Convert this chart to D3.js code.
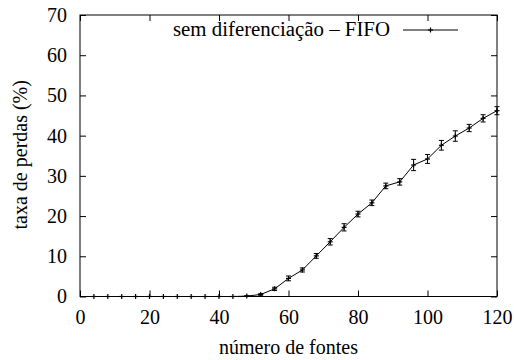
<!DOCTYPE html>
<html>
<head>
<meta charset="utf-8">
<script src="https://cdn.jsdelivr.net/npm/d3@7"></script>
<style>
  html, body { margin: 0; padding: 0; background: #fff; }
  svg { display: block; }
</style>
</head>
<body>
<svg id="chart" width="514" height="360" font-family="Liberation Serif"></svg>
<script>
// number of sources
const fontes = [4, 8, 12, 16, 20, 24, 28, 32, 36, 40, 44, 48, 52, 56, 60, 64, 68, 72, 76, 80,
                84, 88, 92, 96, 100, 104, 108, 112, 116, 120];
// loss rate (%) and its confidence half-width
const perdas = [0, 0, 0, 0, 0, 0, 0, 0, 0, 0, 0, 0.1, 0.5, 1.9, 4.5, 6.6, 10.1, 13.6, 17.2, 20.5,
                23.3, 27.5, 28.5, 32.7, 34.2, 37.6, 39.9, 41.9, 44.3, 46.2];
const erro = [0, 0, 0, 0, 0, 0, 0, 0, 0, 0, 0, 0.1, 0.2, 0.4, 0.6, 0.5, 0.6, 0.8, 0.9, 0.7,
              0.7, 0.7, 0.8, 1.4, 1.1, 1.2, 1.3, 0.9, 0.9, 1.0];
const xTicks = [0, 20, 40, 60, 80, 100, 120];
const yTicks = [0, 10, 20, 30, 40, 50, 60, 70];
const serieNome = "sem diferenciação – FIFO";

const FONT = "Liberation Serif";
const fs = 20;
const svg = d3.select("#chart");
const L = 80, R = 497, T = 15, B = 296.5;
const x = d3.scaleLinear().domain([0, 120]).range([L, R]);
const y = d3.scaleLinear().domain([0, 70]).range([B, T]);
const tick = 6;

// frame
svg.append("rect").attr("x", L).attr("y", T).attr("width", R - L).attr("height", B - T)
  .attr("fill", "none").attr("stroke", "#000").attr("stroke-width", 1);

// axes with inward ticks, mirrored on opposite sides
const styleText = g => g.selectAll("text")
  .attr("font-size", fs).attr("font-family", FONT).attr("fill", "#000");
svg.append("g").attr("transform", `translate(0,${B})`)
  .call(d3.axisBottom(x).tickValues(xTicks).tickSize(-tick).tickPadding(tick + 7))
  .call(g => g.attr("font-family", FONT).select(".domain").remove())
  .call(styleText);
svg.append("g").attr("transform", `translate(0,${T})`)
  .call(d3.axisTop(x).tickValues(xTicks).tickSize(-tick).tickFormat(""))
  .call(g => g.select(".domain").remove());
svg.append("g").attr("transform", `translate(${L},0)`)
  .call(d3.axisLeft(y).tickValues(yTicks).tickSize(-tick).tickPadding(tick + 7))
  .call(g => g.attr("font-family", FONT).select(".domain").remove())
  .call(styleText);
svg.append("g").attr("transform", `translate(${R},0)`)
  .call(d3.axisRight(y).tickValues(yTicks).tickSize(-tick).tickFormat(""))
  .call(g => g.select(".domain").remove());
svg.selectAll(".tick line").attr("stroke", "#000");

// axis titles
svg.append("text").attr("x", x(60)).attr("y", 354).attr("text-anchor", "middle")
  .attr("font-family", FONT).attr("font-size", fs).text("número de fontes");
svg.append("text").attr("transform", `translate(27,${y(35) - 1}) rotate(-90)`)
  .attr("text-anchor", "middle").attr("font-family", FONT).attr("font-size", fs)
  .text("taxa de perdas (%)");

const data = fontes.map((f, i) => ({ f, v: perdas[i], e: erro[i] }));

// line
svg.append("path").datum(data)
  .attr("fill", "none").attr("stroke", "#000").attr("stroke-width", 1)
  .attr("d", d3.line().x(d => x(d.f)).y(d => y(d.v)));

// error bars
const cap = 2.5;
const eb = svg.append("g").attr("stroke", "#000").attr("stroke-width", 1);
data.filter(d => d.e > 0).forEach(d => {
  const cx = x(d.f), y1 = y(d.v - d.e), y2 = y(d.v + d.e);
  eb.append("line").attr("x1", cx).attr("x2", cx).attr("y1", y1).attr("y2", y2);
  eb.append("line").attr("x1", cx - cap).attr("x2", cx + cap).attr("y1", y1).attr("y2", y1);
  eb.append("line").attr("x1", cx - cap).attr("x2", cx + cap).attr("y1", y2).attr("y2", y2);
});

// point markers (+)
const m = 2.5;
const pts = svg.append("g").attr("stroke", "#000").attr("stroke-width", 1.2);
data.forEach(d => {
  const cx = x(d.f), cy = y(d.v);
  pts.append("line").attr("x1", cx - m).attr("x2", cx + m).attr("y1", cy).attr("y2", cy);
  pts.append("line").attr("x1", cx).attr("x2", cx).attr("y1", cy - m).attr("y2", cy + m);
});

// legend
const ly = 30;
svg.append("text").attr("x", 390).attr("y", ly + 6).attr("text-anchor", "end")
  .attr("font-family", FONT).attr("font-size", fs)
  .attr("textLength", 217).attr("lengthAdjust", "spacingAndGlyphs").text(serieNome);
svg.append("line").attr("x1", 403).attr("x2", 458).attr("y1", ly).attr("y2", ly)
  .attr("stroke", "#000");
svg.append("line").attr("x1", 430.5 - m).attr("x2", 430.5 + m).attr("y1", ly).attr("y2", ly)
  .attr("stroke", "#000").attr("stroke-width", 1.2);
svg.append("line").attr("x1", 430.5).attr("x2", 430.5).attr("y1", ly - m).attr("y2", ly + m)
  .attr("stroke", "#000").attr("stroke-width", 1.2);
</script>
</body>
</html>
